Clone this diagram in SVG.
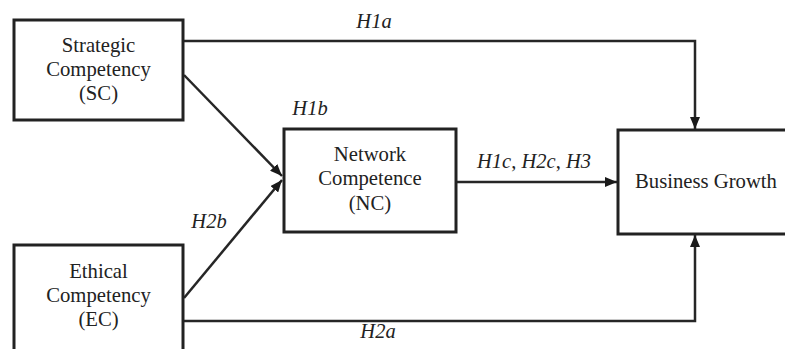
<svg xmlns="http://www.w3.org/2000/svg" width="785" height="349" viewBox="0 0 785 349">
  <style>
    .box { fill: #ffffff; stroke: #222222; stroke-width: 3; }
    .lbl { font-family: 'Liberation Serif', 'DejaVu Serif', serif; font-size: 20.7px; fill: #222222; text-anchor: middle; }
    .hyp { font-family: 'Liberation Serif', 'DejaVu Serif', serif; font-size: 20.5px; font-style: italic; fill: #222222; text-anchor: middle; }
    .edge { fill: none; stroke: #262626; stroke-width: 2.5; }
  </style>
  <defs>
    <marker id="arrow" viewBox="0 0 12 10" refX="12" refY="5" markerWidth="12" markerHeight="10" markerUnits="userSpaceOnUse" orient="auto">
      <path d="M0,0 L12,5 L0,10 Z" fill="#1a1a1a"/>
    </marker>
  </defs>

  <rect width="785" height="349" fill="#ffffff"/>

  <g id="connectors">
    <polyline class="edge" points="183,41 695,41 695,129" marker-end="url(#arrow)"/>
    <polyline class="edge" points="183,321 695,321 695,235" marker-end="url(#arrow)"/>
    <line class="edge" x1="184" y1="75" x2="282" y2="176" marker-end="url(#arrow)"/>
    <line class="edge" x1="184" y1="298" x2="282" y2="180" marker-end="url(#arrow)"/>
    <line class="edge" x1="456" y1="182" x2="617" y2="182" marker-end="url(#arrow)"/>
    <text class="hyp" x="374" y="28">H1a</text>
    <text class="hyp" x="378" y="338">H2a</text>
    <text class="hyp" x="310" y="115">H1b</text>
    <text class="hyp" x="209" y="228">H2b</text>
    <text class="hyp" x="534" y="168">H1c<tspan font-style="normal">,</tspan> H2c<tspan font-style="normal">,</tspan> H3</text>
  </g>

  <g id="sc">
    <rect class="box" x="14" y="20" width="169" height="100"/>
    <text class="lbl" x="98.5" y="52">Strategic</text>
    <text class="lbl" x="98.5" y="76">Competency</text>
    <text class="lbl" x="98.5" y="100">(SC)</text>
  </g>

  <g id="ec">
    <rect class="box" x="14" y="245" width="169" height="110"/>
    <text class="lbl" x="98.5" y="278">Ethical</text>
    <text class="lbl" x="98.5" y="302">Competency</text>
    <text class="lbl" x="98.5" y="326">(EC)</text>
  </g>

  <g id="nc">
    <rect class="box" x="284" y="129" width="172" height="103"/>
    <text class="lbl" x="370" y="161">Network</text>
    <text class="lbl" x="370" y="185">Competence</text>
    <text class="lbl" x="370" y="210">(NC)</text>
  </g>

  <g id="bg">
    <rect class="box" x="618" y="130" width="180" height="104"/>
    <text class="lbl" x="706" y="188">Business Growth</text>
  </g>
</svg>
